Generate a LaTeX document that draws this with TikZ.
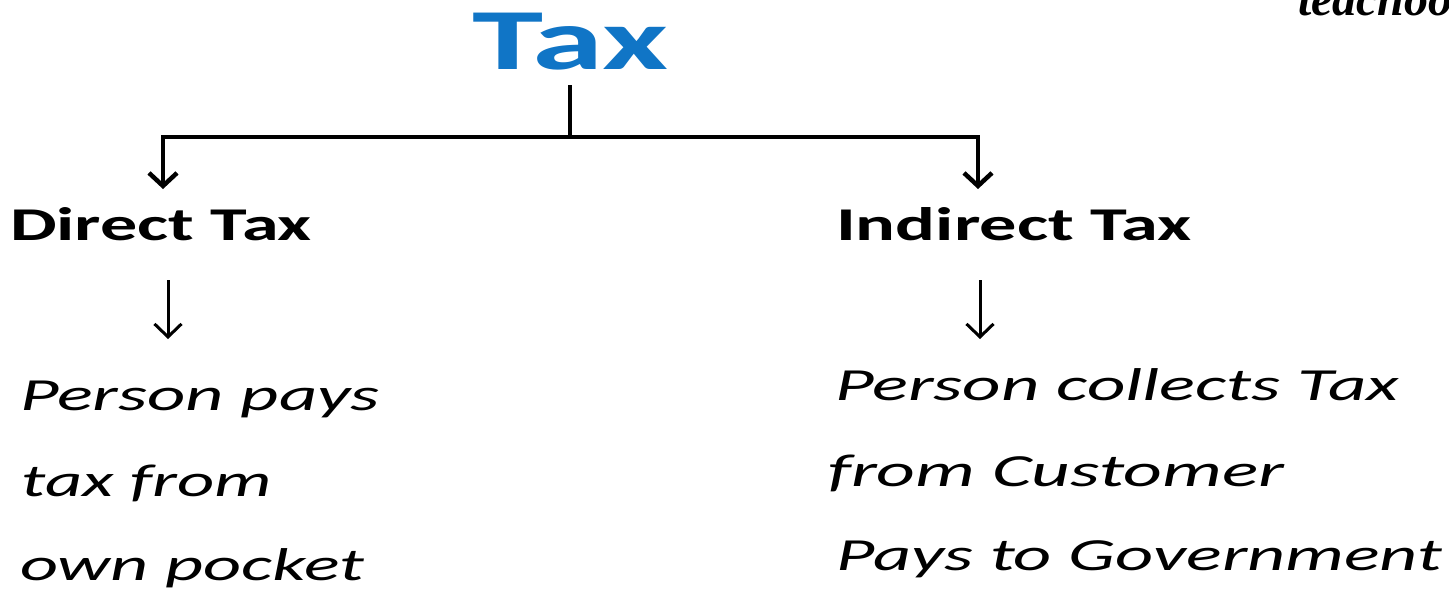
\documentclass[tikz,border=0pt]{standalone}
\usepackage{fontspec}
\usepackage{graphicx}
\setmainfont{Carlito}
\newfontfamily\wmfont{Liberation Serif}
\usetikzlibrary{arrows.meta}
\definecolor{taxblue}{RGB}{16,117,198}
\newcommand\fitw[2]{\resizebox{#1}{\height}{#2}}
\tikzset{
  lbl/.style={anchor=base west, inner sep=0pt, outer sep=0pt},
  conn/.style={line width=4.5pt, line cap=rect},
  bigarrow/.style={line width=4.5pt, -{Straight Barb[length=13pt,width=28pt]}},
  smallarrow/.style={line width=3pt, -{Straight Barb[length=13pt,width=27pt]}},
  heading/.style={lbl, font=\fontsize{47}{47}\selectfont\bfseries},
  body/.style={lbl, font=\fontsize{46}{46}\selectfont\itshape},
}
\begin{document}
\begin{tikzpicture}[x=1pt,y=-1pt]
\useasboundingbox (0,0) rectangle (1449,589);
\clip (0,0) rectangle (1449,589);
\fill[white] (0,0) rectangle (1449,589);

% watermark (cut at top edge, as in the reference)
\node[lbl] (wm) at (1298,15) {\wmfont\fontsize{48}{48}\selectfont\bfseries\itshape teachoo};

% title
\node[lbl, text=taxblue, font=\fontsize{87}{87}\selectfont\bfseries] (tax) at (472,69) {\fitw{196pt}{Tax}};

% headings
\node[heading] (direct) at (10,240) {\fitw{302pt}{Direct Tax}};
\node[heading] (indirect) at (836,240) {\fitw{356pt}{Indirect Tax}};

% connectors
\coordinate (t0) at (570,87);
\coordinate (tj) at (570,137);
\coordinate (jl) at (163,137);
\coordinate (jr) at (978,137);
\coordinate (al) at (163,189);
\coordinate (ar) at (978,189);
\draw[conn] (t0) -- (tj);
\draw[conn] (jl) -- (jr);
\draw[bigarrow] (jl) -- (al);
\draw[bigarrow] (jr) -- (ar);

\coordinate (sl1) at (168,280);
\coordinate (sl2) at (168,339);
\coordinate (sr1) at (980,280);
\coordinate (sr2) at (980,339);
\draw[smallarrow] (sl1) -- (sl2);
\draw[smallarrow] (sr1) -- (sr2);

% left text
\node[body] (l1) at (20,410) {\fitw{360pt}{Person pays}};
\node[body] (l2) at (22,496) {\fitw{250pt}{tax from}};
\node[body] (l3) at (20,580) {\fitw{344pt}{own pocket}};

% right text
\node[body] (r1) at (835,400) {\fitw{564pt}{Person collects Tax}};
\node[body] (r2) at (828,486) {\fitw{456pt}{from Customer}};
\node[body] (r3) at (836,570) {\fitw{606pt}{Pays to Government}};
\end{tikzpicture}
\end{document}
